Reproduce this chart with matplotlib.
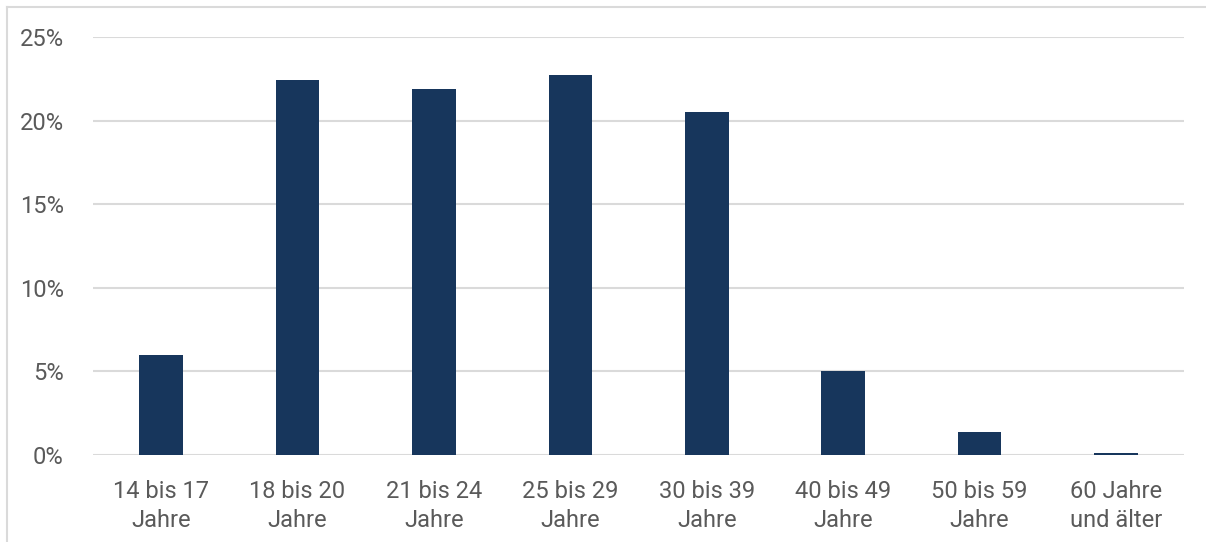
import matplotlib.pyplot as plt
from matplotlib.lines import Line2D
from matplotlib.ticker import FuncFormatter

# Altersgruppen und Anteile in Prozent
categories = ["14 bis 17\nJahre", "18 bis 20\nJahre", "21 bis 24\nJahre", "25 bis 29\nJahre",
              "30 bis 39\nJahre", "40 bis 49\nJahre", "50 bis 59\nJahre", "60 Jahre\nund älter"]
shares = [6.0, 22.4, 21.9, 22.7, 20.5, 5.0, 1.4, 0.1]
yticks = [0, 5, 10, 15, 20, 25]

bar_color = "#17365c"
grid_color = "#dadada"
text_color = "#5a5a5a"

plt.rcParams['font.family'] = ['Roboto', 'DejaVu Sans']

fig = plt.figure(figsize=(12.06, 5.42), dpi=100)
ax = fig.add_axes([0.0771, 0.1605, 0.9047, 0.7712])

x = range(len(categories))
ax.bar(x, shares, width=0.32, color=bar_color, zorder=3)

ax.set_xlim(-0.5, len(categories) - 0.5)
ax.set_ylim(0, 25)
ax.set_yticks(yticks)
ax.yaxis.set_major_formatter(FuncFormatter(lambda v, p: f"{v:.0f}%"))
ax.set_xticks(list(x))
ax.set_xticklabels(categories, linespacing=1.35)

ax.grid(axis='y', color=grid_color, linewidth=1.5, zorder=0)
for s in ax.spines.values():
    s.set_visible(False)
ax.tick_params(length=0, colors=text_color, labelsize=17)
ax.tick_params(axis='x', pad=18)
ax.tick_params(axis='y', pad=21)

# Rahmen um die Grafik (oben und links)
fig.add_artist(Line2D([0.0058, 1.0], [0.987, 0.987], color=grid_color, linewidth=1.5))
fig.add_artist(Line2D([0.0058, 0.0058], [0.0, 0.987], color=grid_color, linewidth=1.5))

fig.savefig("out.png", dpi=100)
